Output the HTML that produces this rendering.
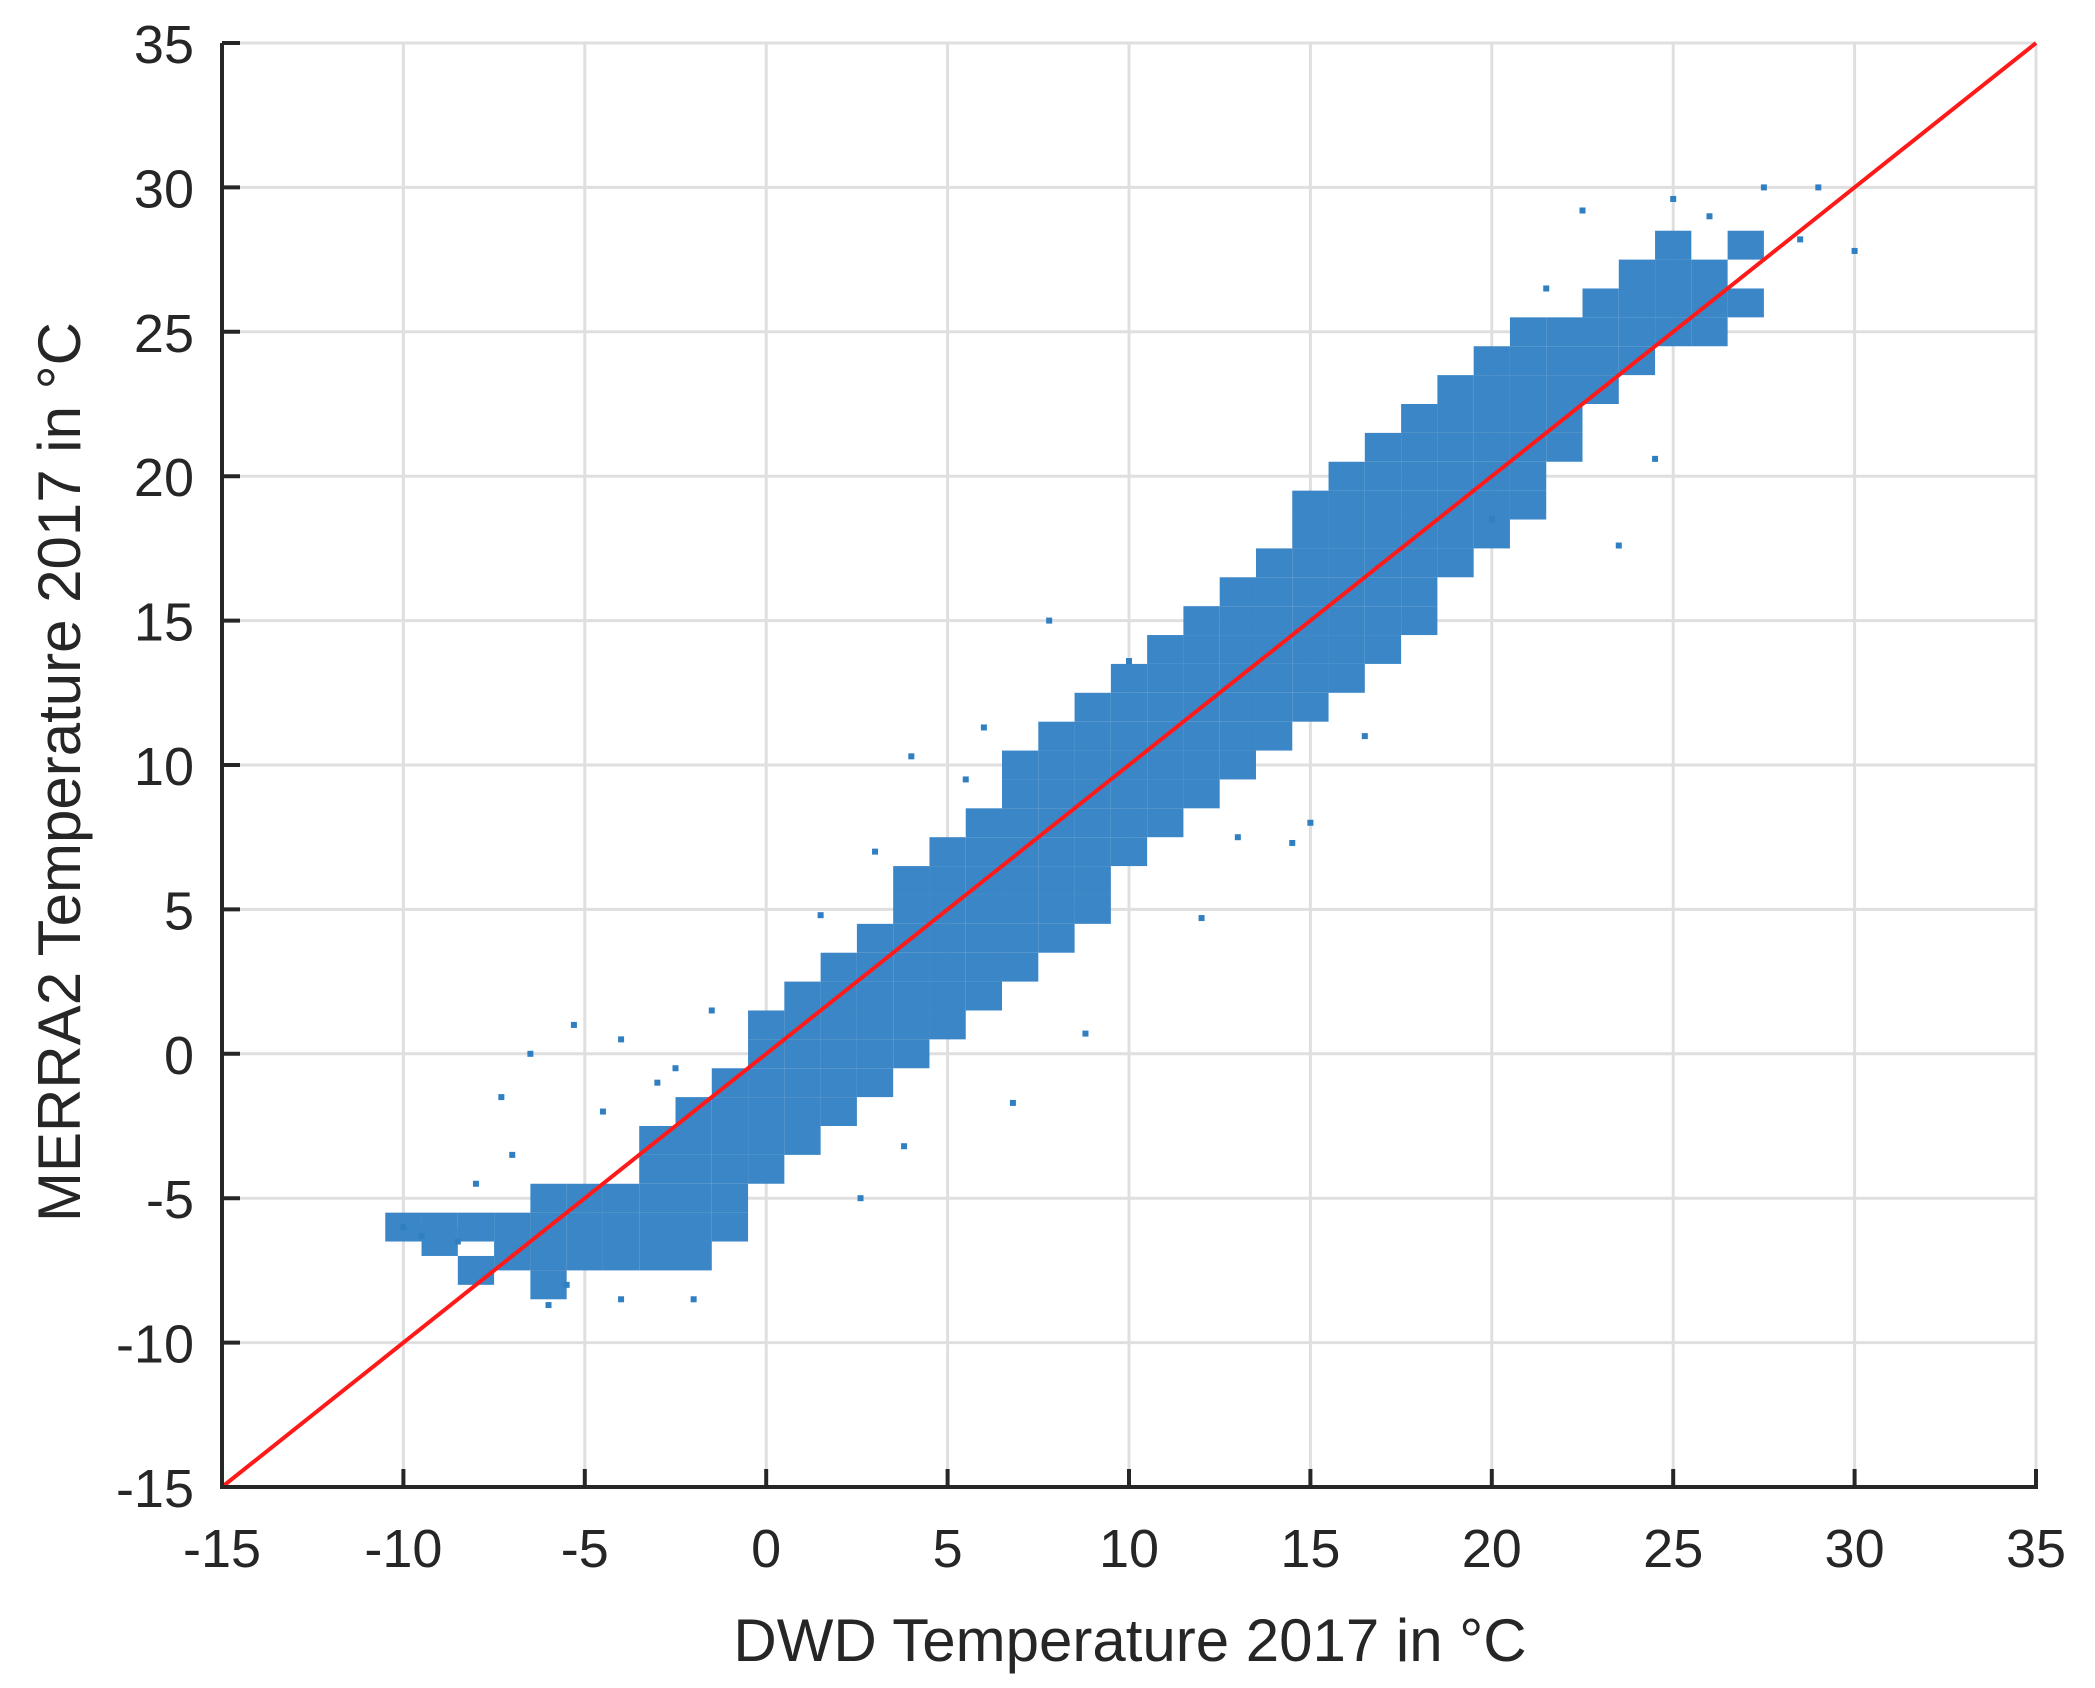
<!DOCTYPE html>
<html><head><meta charset="utf-8">
<style>
html,body{margin:0;padding:0;background:#fff;}
svg{display:block;font-family:"Liberation Sans",Arial,sans-serif;}
</style></head>
<body>
<svg id="chart" width="2095" height="1688" viewBox="0 0 2095 1688" xmlns="http://www.w3.org/2000/svg">
<rect x="0" y="0" width="2095" height="1688" fill="#fff"/>
<g id="grid"></g>
<g id="points"></g>
<g id="axes"></g>
<text x="1130" y="1661" font-size="60" fill="#262626" text-anchor="middle">DWD Temperature 2017 in °C</text>
<text x="0" y="0" font-size="60" fill="#262626" text-anchor="middle" transform="translate(80,772) rotate(-90)">MERRA2 Temperature 2017 in °C</text>
</svg>
<script>
const xTicks = [-15,-10,-5,0,5,10,15,20,25,30,35];
const yTicks = [-15,-10,-5,0,5,10,15,20,25,30,35];
const coreX = [-10,-9,-8,-7,-6,-5,-4,-3,-2,-1,0,1,2,3,4,5,6,7,8,9,10,11,12,13,14,15,16,17,18,19,20,21,22,23,24,25,26,27];
const coreY = [
 [-6],[-6,-6.5],[-6,-7.5],[-6,-7],[-5,-6,-7,-8],[-5,-6,-7],[-5,-6,-7],
 [-3,-4,-5,-6,-7],[-2,-3,-4,-5,-6,-7],[-1,-2,-3,-4,-5,-6],
 [1,0,-1,-2,-3,-4],[2,1,0,-1,-2,-3],[3,2,1,0,-1,-2],[4,3,2,1,0,-1],
 [6,5,4,3,2,1,0],[7,6,5,4,3,2,1],[8,7,6,5,4,3,2],[10,9,8,7,6,5,4,3],
 [11,10,9,8,7,6,5,4],[12,11,10,9,8,7,6,5],[13,12,11,10,9,8,7],
 [14,13,12,11,10,9,8],[15,14,13,12,11,10,9],[16,15,14,13,12,11,10],
 [17,16,15,14,13,12,11],[19,18,17,16,15,14,13,12],[20,19,18,17,16,15,14,13],
 [21,20,19,18,17,16,15,14],[22,21,20,19,18,17,16,15],[23,22,21,20,19,18,17],
 [24,23,22,21,20,19,18],[25,24,23,22,21,20,19],[25,24,23,22,21],
 [26,25,24,23],[27,26,25,24],[28,27,26,25],[27,26,25],[28,26]
];
const outX = [-10,-8.5,-6.5,-5.3,-7.3,-6,-4,-2,4,1.5,15,14.5,22.5,27.5,29,30,25,23.5,24.5,8.8,6.8,2.6,-4,-2.5,3.8,10,7.8,6,12,20,-9.5,-8,-7,-5.5,-4.5,-3,21.5,26,28.5,13,16.5,5.5,3,-1.5];
const outY = [-6,-6.5,0,1,-1.5,-8.7,-8.5,-8.5,10.3,4.8,8,7.3,29.2,30,30,27.8,29.6,17.6,20.6,0.7,-1.7,-5,0.5,-0.5,-3.2,13.6,15,11.3,4.7,18.5,-6.3,-4.5,-3.5,-8,-2,-1,26.5,29,28.2,7.5,11,9.5,7,1.5];

const NS='http://www.w3.org/2000/svg';
const L=222,R=2036,T=43,B=1487;
const sx=v=>L+(v+15)/50*(R-L);
const sy=v=>B-(v+15)/50*(B-T);
const ux=(R-L)/50, uy=(B-T)/50;
function mk(tag,attrs,parent){const e=document.createElementNS(NS,tag);for(const k in attrs)e.setAttribute(k,attrs[k]);parent.appendChild(e);return e;}
const grid=document.getElementById('grid'),pts=document.getElementById('points'),axes=document.getElementById('axes');
xTicks.forEach(t=>{
  const g=mk('line',{x1:sx(t),x2:sx(t),y1:T,y2:B,stroke:'#dfdfdf','stroke-width':3},grid);
  
  
});
yTicks.forEach(t=>{
  const g=mk('line',{x1:L,x2:R,y1:sy(t),y2:sy(t),stroke:'#dfdfdf','stroke-width':3},grid);
  
  
});
coreX.forEach((x,i)=>{coreY[i].forEach(y=>{
  const c=mk('rect',{x:sx(x)-ux/2,y:sy(y)-uy/2,width:ux,height:uy,fill:'#3b86c6'},pts);
  
  
});});
outX.forEach((x,i)=>{
  const c=mk('rect',{x:sx(x)-3,y:sy(outY[i])-3,width:6,height:6,fill:'#2f7fc1'},pts);
  
  
});
const rl=mk('line',{x1:sx(-15),y1:sy(-15),x2:sx(35),y2:sy(35),stroke:'#ff1a1a','stroke-width':4},axes);


const xa=mk('line',{x1:L-2,x2:R+2,y1:B,y2:B,stroke:'#262626','stroke-width':4},axes);


const ya=mk('line',{x1:L,x2:L,y1:T,y2:B+2,stroke:'#262626','stroke-width':4},axes);


xTicks.forEach(t=>{
  const tk=mk('line',{x1:sx(t),x2:sx(t),y1:B,y2:B-18,stroke:'#262626','stroke-width':4},axes);
  
  
  const tx=mk('text',{x:sx(t),y:1567,'font-size':54,fill:'#262626','text-anchor':'middle'},axes);
  tx.textContent=t;
  
  
});
yTicks.forEach(t=>{
  const tk=mk('line',{x1:L,x2:L+18,y1:sy(t),y2:sy(t),stroke:'#262626','stroke-width':4},axes);
  
  
  const tx=mk('text',{x:194,y:sy(t)+20,'font-size':54,fill:'#262626','text-anchor':'end'},axes);
  tx.textContent=t;
  
  
});
</script>
</body></html>
